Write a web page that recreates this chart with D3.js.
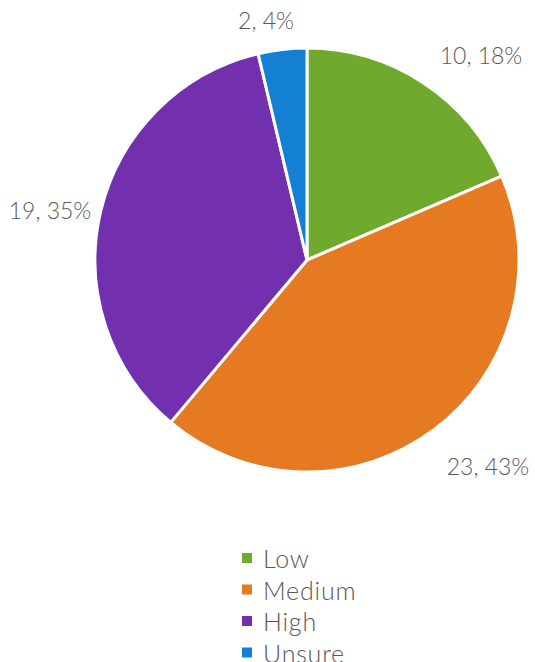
<!DOCTYPE html>
<html><head><meta charset="utf-8">
<script src="https://cdn.jsdelivr.net/npm/d3@7"></script>
<style>body{margin:0;background:#fff;}svg{display:block;font-family:Lato,"Open Sans",sans-serif;font-weight:300;}</style>
</head><body>
<script>
const categories = ["Low", "Medium", "High", "Unsure"];
const values = [10, 23, 19, 2];
const percents = ["18%", "43%", "35%", "4%"];
const colors = ["#6FAA2F", "#E57A22", "#7330AE", "#1480D3"];

const W = 535, H = 662;
const cx = 307, cy = 260, R = 212;
const svg = d3.select("body").append("svg").attr("width", W).attr("height", H);

const pie = d3.pie().sort(null).value(d => d)(values);
const arc = d3.arc().innerRadius(0).outerRadius(R);
const g = svg.append("g").attr("transform", `translate(${cx},${cy})`);
g.selectAll("path").data(pie).join("path")
  .attr("d", arc)
  .attr("fill", (d, i) => colors[i])
  .attr("stroke", "#fff").attr("stroke-width", 3).attr("stroke-linejoin", "round");

const labelPos = [[481, 55], [488, 466], [50, 210], [266, 20]];
svg.selectAll("text.lbl").data(pie).join("text").attr("class", "lbl")
  .attr("x", (d, i) => labelPos[i][0])
  .attr("y", (d, i) => labelPos[i][1])
  .attr("text-anchor", "middle").attr("dominant-baseline", "central")
  .attr("font-size", 23).attr("fill", "#595959")
  .text((d, i) => `${values[i]}, ${percents[i]}`);

const leg = svg.append("g");
categories.forEach((c, i) => {
  const y = 558 + i * 31.5;
  leg.append("rect").attr("x", 242).attr("y", y - 5).attr("width", 10).attr("height", 10).attr("fill", colors[i]);
  leg.append("text").attr("x", 263).attr("y", y).attr("dominant-baseline", "central")
    .attr("font-size", 25).attr("letter-spacing", 0.8).attr("fill", "#595959").text(c);
});
</script>
</body></html>
